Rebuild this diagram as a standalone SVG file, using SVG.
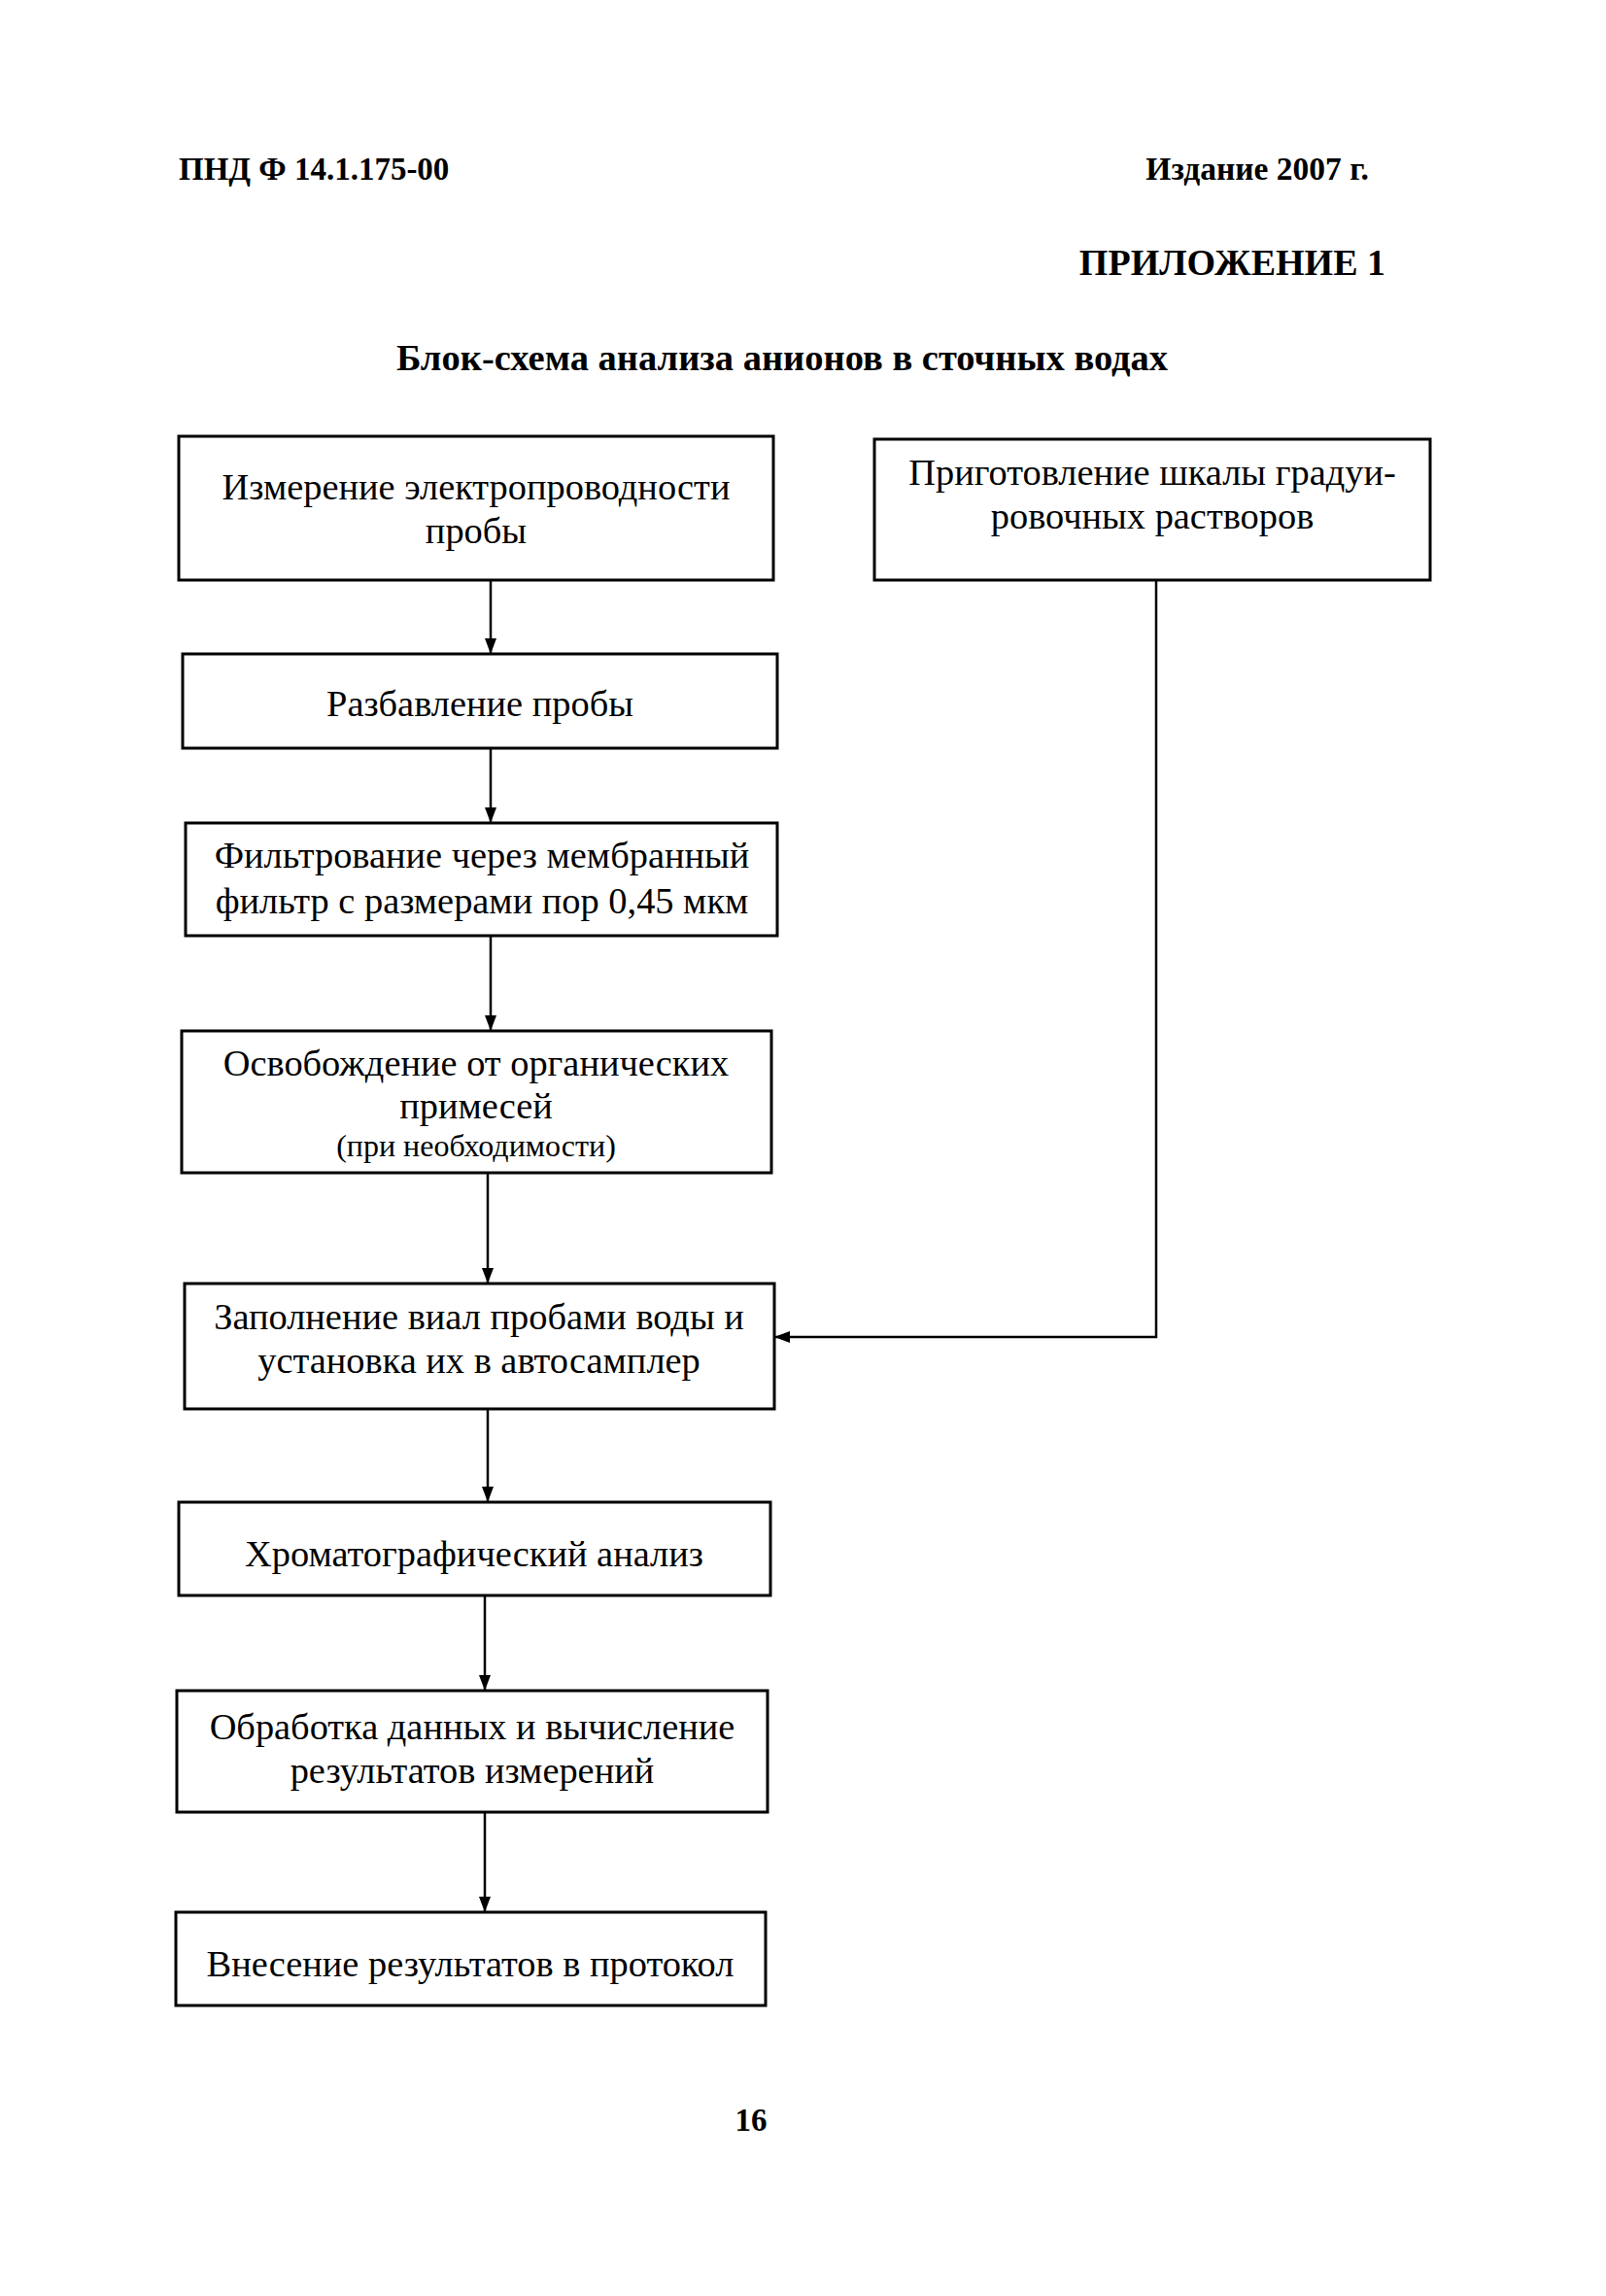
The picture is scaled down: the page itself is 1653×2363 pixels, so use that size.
<svg xmlns="http://www.w3.org/2000/svg" width="1653" height="2363" viewBox="0 0 1653 2363">
<style>
.box{fill:#fff;stroke:#000;stroke-width:3}
.t{font-family:"Liberation Serif","Times New Roman",serif;font-size:38.4px;fill:#000;text-anchor:middle}
.s{font-size:32px}
.h{font-family:"Liberation Serif","Times New Roman",serif;font-weight:bold;fill:#000}
.c{fill:none;stroke:#000;stroke-width:2.5}
</style>
<defs>
<marker id="ar" viewBox="0 0 16 12" refX="16" refY="6" markerWidth="16" markerHeight="12" markerUnits="userSpaceOnUse" orient="auto">
<path d="M0,0 L16,6 L0,12 Z" fill="#000"/>
</marker>
</defs>
<rect width="1653" height="2363" fill="#fff"/>
<g id="header">
<text class="h" x="184" y="185" font-size="33">ПНД Ф 14.1.175-00</text>
<text class="h" x="1409" y="185" font-size="33.5" text-anchor="end">Издание 2007 г.</text>
<text class="h" x="1426" y="283" font-size="38" text-anchor="end">ПРИЛОЖЕНИЕ 1</text>
<text class="h" x="805" y="381" font-size="38.5" text-anchor="middle">Блок-схема анализа анионов в сточных водах</text>
<text class="h" x="773" y="2193" font-size="33" text-anchor="middle">16</text>
</g>
<g id="connectors">
<line class="c" x1="505" y1="597" x2="505" y2="673" marker-end="url(#ar)"/>
<line class="c" x1="505" y1="770" x2="505" y2="847" marker-end="url(#ar)"/>
<line class="c" x1="505" y1="963" x2="505" y2="1061" marker-end="url(#ar)"/>
<line class="c" x1="502" y1="1207" x2="502" y2="1321" marker-end="url(#ar)"/>
<line class="c" x1="502" y1="1450" x2="502" y2="1546" marker-end="url(#ar)"/>
<line class="c" x1="499" y1="1642" x2="499" y2="1740" marker-end="url(#ar)"/>
<line class="c" x1="499" y1="1865" x2="499" y2="1968" marker-end="url(#ar)"/>
<polyline class="c" points="1190,597 1190,1376 797,1376" marker-end="url(#ar)"/>
</g>
<g id="n1">
<rect class="box" x="184" y="449" width="612" height="148"/>
<text class="t" x="490" y="514">Измерение электропроводности</text>
<text class="t" x="490" y="559">пробы</text>
</g>
<g id="n2">
<rect class="box" x="900" y="452" width="572" height="145"/>
<text class="t" x="1186" y="499">Приготовление шкалы градуи-</text>
<text class="t" x="1186" y="544">ровочных растворов</text>
</g>
<g id="n3">
<rect class="box" x="188" y="673" width="612" height="97"/>
<text class="t" x="494" y="737">Разбавление пробы</text>
</g>
<g id="n4">
<rect class="box" x="191" y="847" width="609" height="116"/>
<text class="t" x="496" y="893">Фильтрование через мембранный</text>
<text class="t" x="496" y="940">фильтр с размерами пор 0,45 мкм</text>
</g>
<g id="n5">
<rect class="box" x="187" y="1061" width="607" height="146"/>
<text class="t" x="490" y="1107">Освобождение от органических</text>
<text class="t" x="490" y="1151">примесей</text>
<text class="t s" x="490" y="1190">(при необходимости)</text>
</g>
<g id="n6">
<rect class="box" x="190" y="1321" width="607" height="129"/>
<text class="t" x="493" y="1368">Заполнение виал пробами воды и</text>
<text class="t" x="493" y="1413">установка их в автосамплер</text>
</g>
<g id="n7">
<rect class="box" x="184" y="1546" width="609" height="96"/>
<text class="t" x="488" y="1612">Хроматографический анализ</text>
</g>
<g id="n8">
<rect class="box" x="182" y="1740" width="608" height="125"/>
<text class="t" x="486" y="1790">Обработка данных и вычисление</text>
<text class="t" x="486" y="1835">результатов измерений</text>
</g>
<g id="n9">
<rect class="box" x="181" y="1968" width="607" height="96"/>
<text class="t" x="484" y="2034">Внесение результатов в протокол</text>
</g>
</svg>
